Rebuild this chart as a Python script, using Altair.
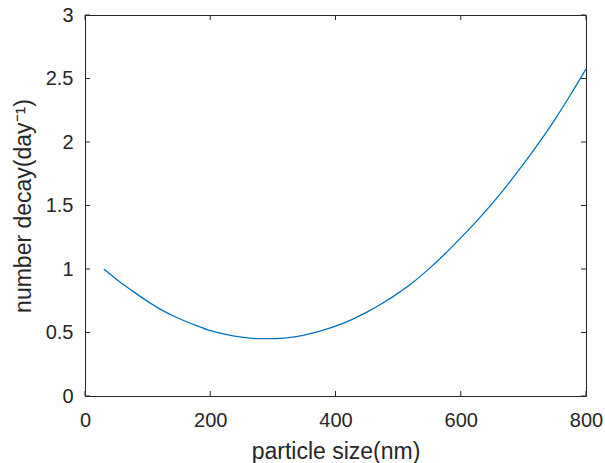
import altair as alt
import pandas as pd

# particle size (nm) and number decay (day^-1)
size_nm = [30, 50, 75, 100, 125, 150, 175, 200, 225, 250, 275, 300, 325, 350,
           375, 400, 425, 450, 475, 500, 525, 550, 575, 600, 625, 650, 675,
           700, 725, 750, 775, 800]
decay = [1.00, 0.92, 0.83, 0.745, 0.67, 0.61, 0.56, 0.515, 0.485, 0.463, 0.452,
         0.451, 0.46, 0.48, 0.51, 0.55, 0.60, 0.66, 0.73, 0.81, 0.90, 1.005,
         1.12, 1.245, 1.375, 1.515, 1.665, 1.825, 1.995, 2.175, 2.37, 2.575]

x_ticks = [0, 200, 400, 600, 800]
y_ticks = [0, 0.5, 1, 1.5, 2, 2.5, 3]

W, H = 501, 381
TICK = 5
AXC = "#262626"
FONT = "Liberation Sans"

df = pd.DataFrame({"size": size_nm, "decay": decay})
xt = pd.DataFrame({"size": x_ticks})
yt = pd.DataFrame({"decay": y_ticks})

xscale = alt.Scale(domain=[0, 800], nice=False, zero=False)
yscale = alt.Scale(domain=[0, 3], nice=False, zero=False)

xaxis = alt.Axis(values=x_ticks, title="particle size(nm)", tickSize=0,
                 domain=False, grid=False, labelPadding=14, titlePadding=10,
                 labelFlush=False)
yaxis = alt.Axis(values=y_ticks, title="number decay(day⁻¹)", tickSize=0,
                 domain=False, grid=False, labelPadding=12, titlePadding=10,
                 labelFlush=False, labelExpr="format(datum.value, '~g')")

X = alt.X("size:Q", scale=xscale, axis=xaxis)
Y = alt.Y("decay:Q", scale=yscale, axis=yaxis)

line = alt.Chart(df).mark_line(color="#0072BD", strokeWidth=1.3,
                               interpolate="monotone").encode(x=X, y=Y)

bottom = alt.Chart(xt).mark_rule(color=AXC).encode(
    x=X, y=alt.value(H), y2=alt.value(H - TICK))
top = alt.Chart(xt).mark_rule(color=AXC).encode(
    x=X, y=alt.value(0), y2=alt.value(TICK))
left = alt.Chart(yt).mark_rule(color=AXC).encode(
    y=Y, x=alt.value(0), x2=alt.value(TICK))
right = alt.Chart(yt).mark_rule(color=AXC).encode(
    y=Y, x=alt.value(W - TICK), x2=alt.value(W))

chart = alt.layer(line, bottom, top, left, right).properties(
    width=W, height=H,
    background="white",
    autosize=alt.AutoSizeParams(type="none"),
    padding={"left": 85, "top": 15, "right": 19, "bottom": 67},
).configure_view(stroke=AXC, strokeWidth=1).configure_axis(
    labelFont=FONT, labelFontSize=20, labelColor=AXC,
    titleFont=FONT, titleFontSize=23, titleColor=AXC, titleFontWeight="normal",
)

chart.save("out.html", embed_options={"renderer": "svg", "actions": False})
